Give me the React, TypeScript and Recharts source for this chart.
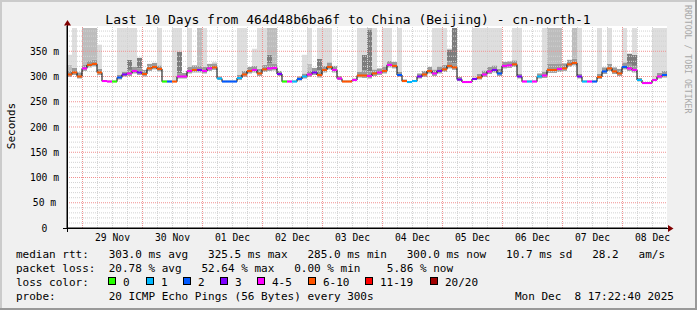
import React from 'react';
import { ComposedChart, Bar, Line, Scatter, XAxis, YAxis, ReferenceLine, CartesianGrid } from 'recharts';

const FONT = '"DejaVu Sans Mono", monospace';

const TITLE = 'Last 10 Days from 464d48b6ba6f to China (Beijing) - cn-north-1';
const CREDIT = 'RRDTOOL / TOBI OETIKER';
const Y_LABEL = 'Seconds';
const dayLabels = ['29 Nov', '30 Nov', '01 Dec', '02 Dec', '03 Dec', '04 Dec', '05 Dec', '06 Dec', '07 Dec', '08 Dec'];
const yTicks = [0, 50, 100, 150, 200, 250, 300, 350];
const Y_MAX = 400;
const SPAN_HOURS = 240;
const BIN_HOURS = 2;
const FIRST_MIDNIGHT = 6.2;

// median rtt (ms), one value per 2-hour bin
const median = [
  304, 308, 300, 316, 323, 325, 308, 291, 290, 290, 298, 304,
  306, 311, 308, 305, 316, 319, 315, 290, 290, 290, 300, 300,
  311, 313, 313, 311, 316, 318, 296, 290, 290, 290, 297, 304,
  311, 313, 306, 314, 316, 317, 305, 290, 290, 290, 295, 300,
  304, 308, 303, 313, 319, 313, 296, 290, 290, 293, 302, 302,
  301, 306, 308, 311, 323, 321, 303, 291, 289, 291, 300, 304,
  311, 306, 311, 314, 321, 318, 294, 289, 289, 295, 298, 304,
  310, 313, 306, 321, 322, 324, 300, 290, 290, 290, 300, 302,
  313, 313, 315, 316, 324, 327, 300, 290, 290, 290, 299, 310,
  316, 310, 306, 319, 316, 313, 293, 287, 287, 293, 300, 303,
];
// loss category index per bin (0:"0" 1:"1" 2:"2" 3:"3" 4:"4-5" 5:"6-10" 6:"11-19" 7:"20/20")
const loss = [
  5, 5, 5, 4, 5, 5, 5, 4, 4, 0, 2, 3,
  4, 4, 3, 5, 5, 5, 5, 0, 2, 5, 4, 4,
  4, 5, 3, 4, 4, 5, 1, 2, 2, 2, 1, 5,
  5, 4, 5, 5, 4, 4, 3, 0, 4, 1, 2, 1,
  4, 3, 5, 5, 5, 4, 4, 5, 5, 4, 5, 5,
  4, 5, 4, 5, 4, 5, 2, 5, 1, 1, 3, 5,
  5, 4, 3, 5, 5, 5, 3, 4, 4, 3, 5, 4,
  4, 3, 2, 4, 4, 5, 3, 4, 1, 4, 1, 4,
  5, 5, 4, 5, 5, 5, 3, 1, 4, 2, 5, 2,
  5, 5, 5, 2, 4, 4, 1, 4, 4, 4, 4, 2,
];
// dense smoke extent above / below the median (ms)
const spreadUp = [
  8, 9, 8, 8, 9, 8, 7, 2, 2, 2, 5, 6,
  7, 8, 8, 8, 9, 8, 7, 2, 2, 2, 6, 7,
  8, 9, 8, 8, 9, 8, 4, 2, 2, 2, 6, 7,
  8, 8, 9, 9, 10, 8, 6, 2, 2, 2, 5, 6,
  8, 9, 9, 8, 9, 8, 5, 2, 2, 3, 7, 10,
  9, 8, 8, 9, 8, 8, 6, 3, 2, 2, 6, 7,
  8, 8, 9, 9, 9, 8, 5, 2, 2, 3, 7, 8,
  9, 9, 9, 8, 8, 8, 5, 2, 2, 2, 6, 8,
  12, 12, 11, 10, 9, 8, 5, 2, 2, 2, 6, 8,
  9, 8, 9, 9, 9, 8, 4, 2, 2, 3, 7, 8,
];
const spreadDown = [
  5, 5, 4, 5, 5, 5, 5, 1, 1, 1, 4, 4,
  5, 5, 5, 5, 5, 5, 5, 1, 1, 1, 4, 4,
  5, 5, 5, 5, 5, 5, 3, 1, 1, 1, 4, 5,
  5, 5, 5, 5, 5, 5, 4, 1, 1, 1, 3, 4,
  5, 5, 5, 5, 5, 5, 3, 1, 1, 2, 4, 5,
  5, 5, 5, 5, 5, 5, 4, 2, 1, 1, 4, 5,
  5, 5, 5, 5, 5, 5, 3, 1, 1, 2, 4, 5,
  5, 5, 5, 5, 5, 5, 4, 1, 1, 1, 4, 5,
  6, 6, 6, 5, 5, 5, 4, 1, 1, 1, 4, 5,
  5, 5, 5, 5, 5, 5, 3, 1, 1, 2, 4, 5,
];
// [bin, top value in ms] of the outer smoke columns
const lightSpikes: [number, number][] = [
  [0, 343], [1, 396], [6, 363], [10, 396], [11, 396], [12, 396], [13, 396], [18, 396],
  [21, 396], [22, 396], [24, 396], [27, 396], [29, 329], [34, 396], [35, 396], [37, 355],
  [38, 396], [39, 396], [47, 343], [48, 396], [50, 396], [51, 396], [52, 396], [58, 396],
  [59, 396], [60, 396], [61, 396], [63, 396], [64, 396], [66, 396], [73, 396], [74, 396],
  [75, 396], [81, 396], [82, 396], [83, 396], [84, 396], [85, 396], [86, 396], [89, 396],
  [90, 396], [95, 396], [102, 396], [106, 396], [108, 396], [111, 396], [113, 396],
  [117, 396], [118, 396], [119, 396],
];
const midSpikes: [number, number][] = [
  [0, 323], [3, 396], [4, 396], [5, 396], [26, 396], [40, 396], [41, 396], [48, 325],
  [59, 333], [60, 396], [76, 355], [96, 396], [97, 396], [98, 396], [101, 396],
];
const darkSpikes: [number, number][] = [
  [12, 333], [14, 337], [22, 349], [29, 325], [40, 343], [50, 335], [59, 343], [60, 393],
  [76, 353], [77, 396], [112, 345], [113, 343],
];

const lossLabels = ['0', '1', '2', '3', '4-5', '6-10', '11-19', '20/20'];
const lossColors = ['#26ff00', '#00b8ff', '#0059ff', '#7e00ff', '#ff00ff', '#ff5500', '#ff0000', '#a00000'];

const statLines = [
  'median rtt:   303.0 ms avg   325.5 ms max   285.0 ms min   300.0 ms now   10.7 ms sd   28.2   am/s',
  'packet loss:  20.78 % avg   52.64 % max   0.00 % min    5.86 % now',
];
const LOSS_COLOR_LABEL = 'loss color:';
const PROBE_LINE = 'probe:        20 ICMP Echo Pings (56 Bytes) every 300s';
const STAMP = 'Mon Dec  8 17:22:40 2025';

// ---- derived table ----
const toMap = (l: [number, number][]) => new Map(l.map(([b, v]) => [b, v]));
const lightMap = toMap(lightSpikes);
const midMap = toMap(midSpikes);
const darkMap = toMap(darkSpikes);

const rows = median.map((m, i) => {
  const lo = m - spreadDown[i];
  const hi = m + spreadUp[i];
  const dTop = Math.max(hi, darkMap.get(i) ?? 0);
  const mTop = Math.max(dTop, midMap.get(i) ?? 0);
  const lTop = Math.max(mTop, lightMap.get(i) ?? 0);
  return {
    bin: i,
    hour: i * BIN_HOURS + BIN_HOURS / 2,
    median: m,
    base: lo,
    sDown: m - lo,
    sUp: hi - m,
    dark: dTop - hi,
    mid: mTop - dTop,
    light: lTop - mTop,
    loss: loss[i],
  };
});

const noonTicks = dayLabels.map((_, k) => FIRST_MIDNIGHT + 12 + 24 * k);
const midnights: number[] = [];
const sixHours: number[] = [];
for (let h = FIRST_MIDNIGHT - 6; h < SPAN_HOURS; h += 6) {
  if (h <= 0) continue;
  const isMid = Math.abs(((h - FIRST_MIDNIGHT) % 24 + 24) % 24) < 0.01;
  (isMid ? midnights : sixHours).push(h);
}
const minorY: number[] = [];
const majorY: number[] = [];
for (let v = 10; v < Y_MAX; v += 10) {
  if (v % 50 === 0) majorY.push(v);
  else minorY.push(v);
}

const XTick = (p: any) => {
  const idx = Math.round((p.payload.value - FIRST_MIDNIGHT - 12) / 24);
  return (
    <text x={p.x} y={p.y + 13} textAnchor="middle" fontFamily={FONT} fontSize={9.7} fill="#000">
      {dayLabels[idx]}
    </text>
  );
};
const YTick = (p: any) => {
  const v = p.payload.value;
  return (
    <text x={p.x} y={p.y + 3.5} textAnchor="middle" fontFamily={FONT} fontSize={9.7} fill="#000">
      {v === 0 ? '0' : `${v} m`}
    </text>
  );
};

// colored median segment: one band wide, 2px thick, centred on the median point
const MedianMark = (p: any) => {
  if (p.cx == null || p.cy == null) return null;
  const w = 600 / median.length;
  return <rect x={p.cx - w / 2} y={p.cy - 1} width={w} height={2} fill={lossColors[p.payload.loss]} />;
};

const boxX = [108, 146, 183, 220, 257, 308, 365, 430];

export default function App() {
  return (
    <div style={{ position: 'relative', width: 697, height: 310, background: '#f0f0f0', overflow: 'hidden' }}>
      <style>{'body{margin:0}'}</style>
      <ComposedChart
        width={697}
        height={310}
        data={rows}
        margin={{ top: 26, right: 30, bottom: 62, left: 0 }}
        barCategoryGap={0}
        barGap={0}
      >
        <CartesianGrid xAxisId="t" fill="#ffffff" stroke="none" horizontal={false} vertical={false} />
        <XAxis
          xAxisId="t"
          dataKey="hour"
          type="number"
          domain={[0, SPAN_HOURS]}
          allowDataOverflow
          ticks={noonTicks}
          interval={0}
          tick={<XTick />}
          tickLine={false}
          tickSize={0}
          tickMargin={0}
          height={20}
          axisLine={{ stroke: '#000' }}
        />
        <XAxis xAxisId="c" dataKey="bin" type="category" hide height={0} />
        <YAxis
          domain={[0, Y_MAX]}
          allowDataOverflow
          ticks={yTicks}
          interval={0}
          width={67}
          tick={<YTick />}
          tickLine={false}
          tickSize={0}
          tickMargin={22.5}
          axisLine={{ stroke: '#000' }}
        />
        <Bar xAxisId="c" dataKey="base" stackId="s" fill="transparent" isAnimationActive={false} />
        <Bar xAxisId="c" dataKey="sDown" stackId="s" fill="#a4a4a4" isAnimationActive={false} />
        <Bar xAxisId="c" dataKey="sUp" stackId="s" fill="#9a9a9a" isAnimationActive={false} />
        <Bar xAxisId="c" dataKey="dark" stackId="s" fill="#7c7c7c" isAnimationActive={false} />
        <Bar xAxisId="c" dataKey="mid" stackId="s" fill="#bdbdbd" isAnimationActive={false} />
        <Bar xAxisId="c" dataKey="light" stackId="s" fill="#dedede" isAnimationActive={false} />
        {minorY.map((v) => (
          <ReferenceLine key={'hy' + v} xAxisId="t" y={v} stroke="#d2d2d2" strokeDasharray="1 1" />
        ))}
        {sixHours.map((h) => (
          <ReferenceLine key={'vx' + h} xAxisId="t" x={h} stroke="#d2d2d2" strokeDasharray="1 1" />
        ))}
        {majorY.map((v) => (
          <ReferenceLine key={'my' + v} xAxisId="t" y={v} stroke="#f09090" strokeDasharray="1 1" />
        ))}
        {midnights.map((h) => (
          <ReferenceLine key={'mx' + h} xAxisId="t" x={h} stroke="#f09090" strokeDasharray="1 1" />
        ))}
        <Line
          xAxisId="c"
          dataKey="median"
          type="step"
          stroke="#000"
          strokeWidth={1}
          dot={false}
          activeDot={false}
          isAnimationActive={false}
        />
        <Scatter xAxisId="c" dataKey="median" shape={<MedianMark />} isAnimationActive={false} />
      </ComposedChart>
      <svg
        width={697}
        height={310}
        style={{ position: 'absolute', left: 0, top: 0, pointerEvents: 'none' }}
        fontFamily={FONT}
      >
        <rect x={0} y={0} width={697} height={2} fill="#cbcbcb" />
        <rect x={0} y={0} width={2} height={310} fill="#cbcbcb" />
        <rect x={0} y={308} width={697} height={2} fill="#999999" />
        <rect x={695} y={0} width={2} height={310} fill="#999999" />
        <text x={348} y={23.5} textAnchor="middle" fontSize={13} fill="#000">{TITLE}</text>
        <text x={685} y={5} fontSize={8.2} fill="#a8a8a8" transform="rotate(90 685 5)">{CREDIT}</text>
        <text x={15} y={126} textAnchor="middle" fontSize={11} fill="#000" transform="rotate(-90 15 126)">{Y_LABEL}</text>
        <line x1={67.5} y1={21} x2={67.5} y2={232} stroke="#000" strokeWidth={1} />
        <line x1={63} y1={228.5} x2={670} y2={228.5} stroke="#000" strokeWidth={1} />
        <polygon points="64,25.5 71,25.5 67.5,20" fill="#800000" />
        <polygon points="668,225 668,232 673.5,228.5" fill="#800000" />
        <g fontSize={11} fill="#000" style={{ whiteSpace: 'pre' }}>
          <text x={16} y={257.5} xmlSpace="preserve">{statLines[0]}</text>
          <text x={16} y={271.5} xmlSpace="preserve">{statLines[1]}</text>
          <text x={16} y={285.5}>{LOSS_COLOR_LABEL}</text>
          {lossLabels.map((l, i) => (
            <g key={l}>
              <rect x={boxX[i] + 0.5} y={277.5} width={7} height={7} fill={lossColors[i]} stroke="#000" strokeWidth={1} />
              <text x={boxX[i] + 15} y={285.5}>{l}</text>
            </g>
          ))}
          <text x={16} y={299.5} xmlSpace="preserve">{PROBE_LINE}</text>
          <text x={515} y={299.5} xmlSpace="preserve">{STAMP}</text>
        </g>
      </svg>
    </div>
  );
}
